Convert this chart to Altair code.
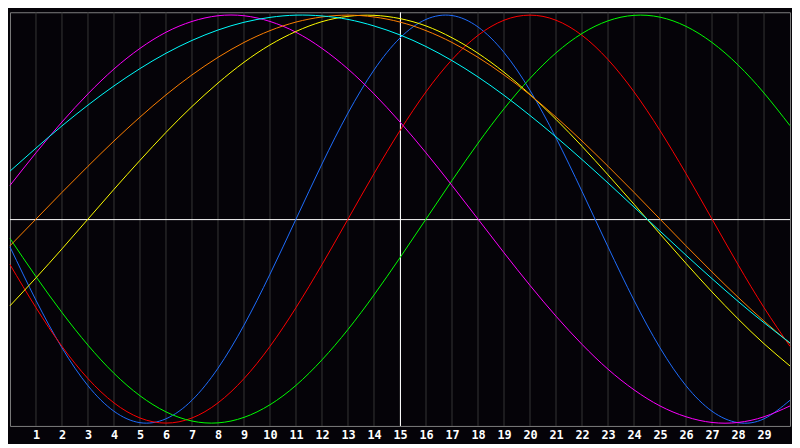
import altair as alt
import pandas as pd

# ---- data ----
days = list(range(0, 31))

series_names = ["Physical", "Emotional", "Intellectual", "Intuitive",
                "Aesthetic", "Awareness", "Spiritual"]
series_colors = ["#1e6eff", "#ff0000", "#00ff00", "#ff00ff",
                 "#ffff00", "#ff8000", "#00ffff"]

physical = [-0.136, -0.398, -0.631, -0.817, -0.942, -0.998, -0.979, -0.888,
            -0.731, -0.520, -0.270, 0.000, 0.270, 0.520, 0.731, 0.888,
            0.979, 0.998, 0.942, 0.817, 0.631, 0.398, 0.136, -0.136,
            -0.398, -0.631, -0.817, -0.942, -0.998, -0.979, -0.888]
emotional = [-0.223, -0.434, -0.624, -0.782, -0.901, -0.975, -1.000, -0.975,
             -0.901, -0.782, -0.624, -0.434, -0.223, 0.000, 0.223, 0.434,
             0.624, 0.782, 0.901, 0.975, 1.000, 0.975, 0.901, 0.782,
             0.624, 0.434, 0.223, 0.000, -0.223, -0.434, -0.624]
intellectual = [-0.095, -0.282, -0.458, -0.618, -0.756, -0.866, -0.945, -0.990,
                -0.999, -0.972, -0.910, -0.815, -0.690, -0.541, -0.372, -0.189,
                0.000, 0.189, 0.372, 0.541, 0.690, 0.815, 0.910, 0.972,
                0.999, 0.990, 0.945, 0.866, 0.756, 0.618, 0.458]
intuitive = [0.165, 0.325, 0.476, 0.614, 0.736, 0.837, 0.916, 0.969,
             0.997, 0.997, 0.969, 0.916, 0.837, 0.736, 0.614, 0.476,
             0.325, 0.165, 0.000, -0.165, -0.325, -0.476, -0.614, -0.736,
             -0.837, -0.916, -0.969, -0.997, -0.997, -0.969, -0.916]
aesthetic = [-0.425, -0.288, -0.146, 0.000, 0.146, 0.288, 0.425, 0.552,
             0.667, 0.769, 0.854, 0.920, 0.968, 0.994, 0.999, 0.983,
             0.947, 0.889, 0.813, 0.720, 0.611, 0.489, 0.357, 0.217,
             0.073, -0.073, -0.217, -0.357, -0.489, -0.611, -0.720]
awareness = [-0.131, 0.000, 0.131, 0.259, 0.383, 0.500, 0.609, 0.707,
             0.793, 0.866, 0.924, 0.966, 0.991, 1.000, 0.991, 0.966,
             0.924, 0.866, 0.793, 0.707, 0.609, 0.500, 0.383, 0.259,
             0.131, 0.000, -0.131, -0.259, -0.383, -0.500, -0.609]
spiritual = [0.235, 0.348, 0.457, 0.559, 0.653, 0.738, 0.813, 0.876,
             0.927, 0.965, 0.989, 1.000, 0.996, 0.979, 0.947, 0.903,
             0.846, 0.777, 0.697, 0.607, 0.508, 0.403, 0.292, 0.177,
             0.059, -0.059, -0.177, -0.292, -0.403, -0.508, -0.607]

grid_days = list(range(1, 30))
today = [15]
baseline = [0]

# ---- build table ----
all_series = [physical, emotional, intellectual, intuitive,
              aesthetic, awareness, spiritual]
rows = []
for name, vals in zip(series_names, all_series):
    for d, v in zip(days, vals):
        rows.append({"day": d, "value": v, "series": name})
df = pd.DataFrame(rows)

x_scale = alt.Scale(domain=[0, 30], nice=False, zero=False)
y_scale = alt.Scale(domain=[-1.014, 1.014], nice=False, zero=False)
x_axis = alt.Axis(values=grid_days, title=None, ticks=False, domain=False,
                  grid=False, labelColor="#ffffff", labelFont="DejaVu Sans Mono",
                  labelFontWeight="bold", labelFontSize=12, labelPadding=4,
                  labelFlush=False, labelAngle=0)

grid = alt.Chart(pd.DataFrame({"day": grid_days})).mark_rule(
    color="#363636", strokeWidth=1
).encode(x=alt.X("day:Q", scale=x_scale, axis=x_axis))

vline = alt.Chart(pd.DataFrame({"day": today})).mark_rule(
    color="#ffffff", strokeWidth=1, xOffset=0.5
).encode(x=alt.X("day:Q", scale=x_scale, axis=x_axis))

hline = alt.Chart(pd.DataFrame({"v": baseline})).mark_rule(
    color="#ffffff", strokeWidth=1, yOffset=0.5
).encode(y=alt.Y("v:Q", scale=y_scale, axis=None))

lines = alt.Chart(df).mark_line(strokeWidth=1, interpolate="natural").encode(
    x=alt.X("day:Q", scale=x_scale, axis=x_axis),
    y=alt.Y("value:Q", scale=y_scale, axis=None),
    color=alt.Color("series:N",
                    scale=alt.Scale(domain=series_names, range=series_colors),
                    legend=None),
)

chart = alt.layer(grid, vline, hline, lines).properties(
    width=792, height=420, padding=0, background="#050308"
).configure_view(stroke="#808080", strokeWidth=1)

chart.save("out.html", embed_options={"renderer": "svg", "actions": False})
